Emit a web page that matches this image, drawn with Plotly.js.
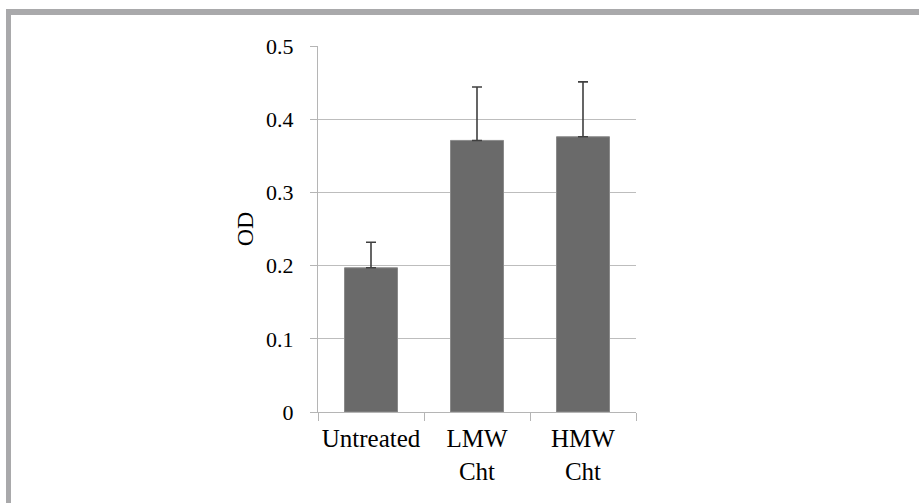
<!DOCTYPE html>
<html>
<head>
<meta charset="utf-8">
<script src="https://cdn.plot.ly/plotly-3.0.1.min.js"></script>
<style>html,body{margin:0;padding:0;background:#fff;}#chart{width:919px;height:503px;}</style>
</head>
<body>
<div id="chart"></div>
<script>
const categories = ["Untreated", "LMW<br>Cht", "HMW<br>Cht"];
const odValues = [0.197, 0.371, 0.376];
const odErrors = [0.035, 0.073, 0.075];
const yTickValues = [0, 0.1, 0.2, 0.3, 0.4, 0.5];
const yTickLabels = ["0", "0.1", "0.2", "0.3", "0.4", "0.5"];

// pixel helpers for frame shapes (plot area: x 318..636, y 46..412)
const L = 318, R = 636, T = 46, B = 412;
const px = v => (v - L) / (R - L);
const py = v => (B - v) / (B - T);
const frameColor = "#a9a9ab";

const trace = {
  type: "bar",
  x: categories,
  y: odValues,
  width: 0.5,
  marker: {color: "#6a6a6a", line: {color: "#8a8a8a", width: 1}},
  error_y: {type: "data", array: odErrors, visible: true, symmetric: false, arrayminus: [0,0,0],
            color: "#404040", thickness: 1.6, width: 5},
  hoverinfo: "none"
};

const layout = {
  width: 919, height: 503,
  margin: {l: L, r: 919 - R, t: T, b: 503 - B, pad: 0},
  paper_bgcolor: "#ffffff", plot_bgcolor: "#ffffff",
  showlegend: false,
  font: {family: "Liberation Serif, Times New Roman, serif", color: "#000"},
  xaxis: {
    type: "category",
    tickson: "boundaries",
    tickangle: 0,
    ticks: "outside", ticklen: 8, tickcolor: "#b5b5b5", tickwidth: 1,
    ticklabelstandoff: 4,
    showline: true, linecolor: "#b5b5b5", linewidth: 1,
    showgrid: false, zeroline: false,
    tickfont: {size: 25, family: "Liberation Serif", color: "#000"},
    fixedrange: true
  },
  yaxis: {
    range: [0, 0.5],
    tickvals: yTickValues, ticktext: yTickLabels,
    ticks: "outside", ticklen: 7, tickcolor: "#b5b5b5", tickwidth: 1,
    ticklabelstandoff: 12,
    showline: true, linecolor: "#b5b5b5", linewidth: 1,
    showgrid: true, gridcolor: "#bdbdbd", gridwidth: 1,
    zeroline: false,
    tickfont: {size: 22, family: "Liberation Serif", color: "#000"},
    title: {text: "OD", font: {size: 24, family: "Liberation Serif", color: "#000"}, standoff: 5},
    fixedrange: true
  },
  shapes: [
    {type: "rect", xref: "paper", yref: "paper", x0: px(6), x1: px(919), y0: py(9), y1: py(15),
     fillcolor: frameColor, line: {width: 0}, layer: "above"},
    {type: "rect", xref: "paper", yref: "paper", x0: px(6), x1: px(11), y0: py(9), y1: py(503),
     fillcolor: frameColor, line: {width: 0}, layer: "above"}
  ]
};

Plotly.newPlot("chart", [trace], layout, {staticPlot: true, displayModeBar: false});
</script>
</body>
</html>
